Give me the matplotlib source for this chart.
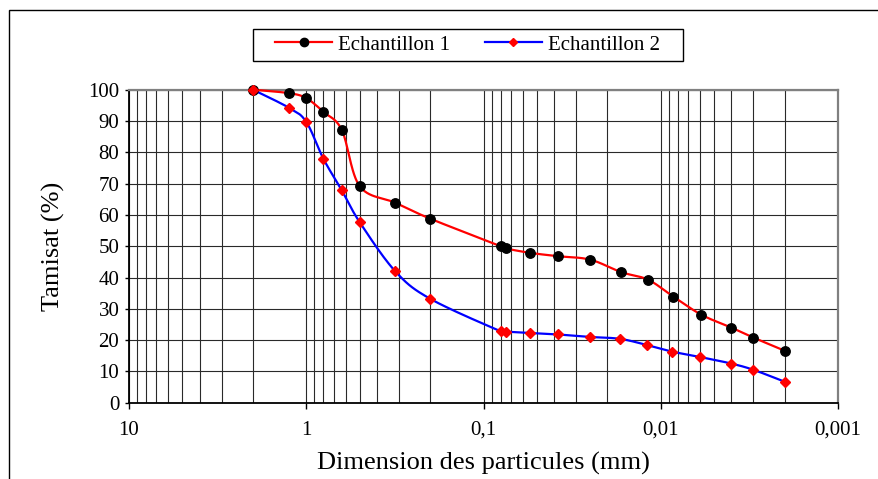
import numpy as np
import matplotlib
matplotlib.use("Agg")
import matplotlib.pyplot as plt
from matplotlib.patches import Rectangle
from matplotlib.lines import Line2D

# ---- data ----
size_1 = [2.0, 1.25, 1.0, 0.8, 0.63, 0.5, 0.315, 0.2, 0.08, 0.075, 0.055, 0.038,
          0.025, 0.0167, 0.0118, 0.0085, 0.0059, 0.0040, 0.0030, 0.0020]
pass_1 = [100, 98.9, 97.3, 92.9, 87.1, 69.2, 63.9, 58.8, 50.0, 49.3, 47.9, 46.8,
          45.7, 41.7, 39.3, 33.9, 28.1, 24.0, 20.8, 16.6]
size_2 = [2.0, 1.25, 1.0, 0.8, 0.63, 0.5, 0.315, 0.2, 0.08, 0.075, 0.055, 0.038,
          0.025, 0.0170, 0.0119, 0.0086, 0.0060, 0.0040, 0.0030, 0.0020]
pass_2 = [100, 94.2, 89.7, 77.9, 67.8, 57.7, 42.0, 33.2, 22.8, 22.7, 22.3, 21.8,
          21.0, 20.4, 18.4, 16.3, 14.6, 12.5, 10.5, 6.7]
series_names = ["Echantillon 1", "Echantillon 2"]
x_ticks = [10, 1, 0.1, 0.01, 0.001]
x_tick_labels = ["10", "1", "0,1", "0,01", "0,001"]
y_ticks = list(range(0, 101, 10))
x_label = "Dimension des particules (mm)"
y_label = "Tamisat (%)"


def smooth(xs, ys, n=30):
    """Excel-like smoothed line (Catmull-Rom Bezier) in log-x space."""
    lx = np.log10(np.asarray(xs, float))
    y = np.asarray(ys, float)
    P = np.column_stack([lx, y])
    out = []
    m = len(P)
    for i in range(m - 1):
        p0 = P[i - 1] if i > 0 else P[i]
        p1 = P[i]
        p2 = P[i + 1]
        p3 = P[i + 2] if i + 2 < m else P[i + 1]
        c1 = p1 + (p2 - p0) / 6.0
        c2 = p2 - (p3 - p1) / 6.0
        t = np.linspace(0, 1, n)[:, None]
        seg = ((1 - t) ** 3) * p1 + 3 * ((1 - t) ** 2) * t * c1 + 3 * (1 - t) * t ** 2 * c2 + t ** 3 * p2
        out.append(seg if i == 0 else seg[1:])
    out = np.vstack(out)
    return 10 ** out[:, 0], out[:, 1]


plt.rcParams['font.family'] = ['Liberation Serif', 'DejaVu Serif']

W, H = 879, 479
fig = plt.figure(figsize=(W / 100, H / 100), dpi=100)
ax = fig.add_axes([0.1468, 0.1593, 0.9534 - 0.1468, 0.8127 - 0.1593])

# chart-area border
fig.patches.append(Rectangle((9 / W, -0.05), 1.2, 1 - 10 / H + 0.05,
                             transform=fig.transFigure, fill=False,
                             edgecolor='black', linewidth=1.0, zorder=0))

ax.set_xscale('log')
ax.set_xlim(10, 0.001)
ax.set_ylim(0, 100)

# grid
ax.set_xticks(x_ticks)
ax.set_xticklabels(x_tick_labels)
ax.set_yticks(y_ticks)
ax.xaxis.set_minor_locator(matplotlib.ticker.LogLocator(base=10, subs=np.arange(2, 10)))
ax.xaxis.set_minor_formatter(matplotlib.ticker.NullFormatter())
ax.grid(True, which='both', axis='x', color='#2a2a2a', linewidth=0.8)
ax.grid(True, which='major', axis='y', color='#2a2a2a', linewidth=0.8)
ax.set_axisbelow(True)
ax.tick_params(axis='x', which='minor', length=0)
ax.tick_params(axis='x', which='major', length=4, direction='out', width=1, pad=9,
               labelsize=15)
ax.tick_params(axis='y', which='major', length=3, direction='out', width=1, pad=4,
               labelsize=15)

for s in ['left', 'bottom']:
    ax.spines[s].set_color('black')
    ax.spines[s].set_linewidth(1.3)
for s in ['top', 'right']:
    ax.spines[s].set_color('#808080')
    ax.spines[s].set_linewidth(1.6)

sx1, sy1 = smooth(size_1, pass_1)
sx2, sy2 = smooth(size_2, pass_2)
ax.plot(sx1, sy1, color='#ff0000', linewidth=1.6, zorder=3, solid_capstyle='round',
        clip_on=False)
ax.plot(sx2, sy2, color='#0000ff', linewidth=1.6, zorder=3, solid_capstyle='round',
        clip_on=False)
ax.plot(size_1, pass_1, linestyle='none', marker='o', markersize=6.8,
        markerfacecolor='black', markeredgecolor='black', zorder=4, clip_on=False)
ax.plot(size_2, pass_2, linestyle='none', marker='D', markersize=5.0,
        markerfacecolor='#ff0000', markeredgecolor='#ff0000', zorder=5, clip_on=False)

ax.set_xlabel(x_label, fontsize=19, labelpad=9)
ax.set_ylabel(y_label, fontsize=19, labelpad=17)

# legend box drawn explicitly (wide padding as in the reference)
fig.patches.append(Rectangle((253 / W, 1 - 61 / H), (683 - 253) / W, (61 - 29) / H,
                             transform=fig.transFigure, fill=True, facecolor='white',
                             edgecolor='black', linewidth=1.0, zorder=1))
handles = [
    Line2D([], [], color='#ff0000', linewidth=1.6, marker='o', markersize=6,
           markerfacecolor='black', markeredgecolor='black'),
    Line2D([], [], color='#0000ff', linewidth=1.6, marker='D', markersize=4.5,
           markerfacecolor='#ff0000', markeredgecolor='#ff0000'),
]
leg = fig.legend(handles, series_names, loc='center', bbox_to_anchor=(0.532, 1 - 45 / H),
                 ncol=2, fontsize=15, frameon=False,
                 handlelength=2.7, columnspacing=1.7, borderpad=0.2,
                 handletextpad=0.3)
leg.set_zorder(2)

fig.savefig('out.png', dpi=100)
